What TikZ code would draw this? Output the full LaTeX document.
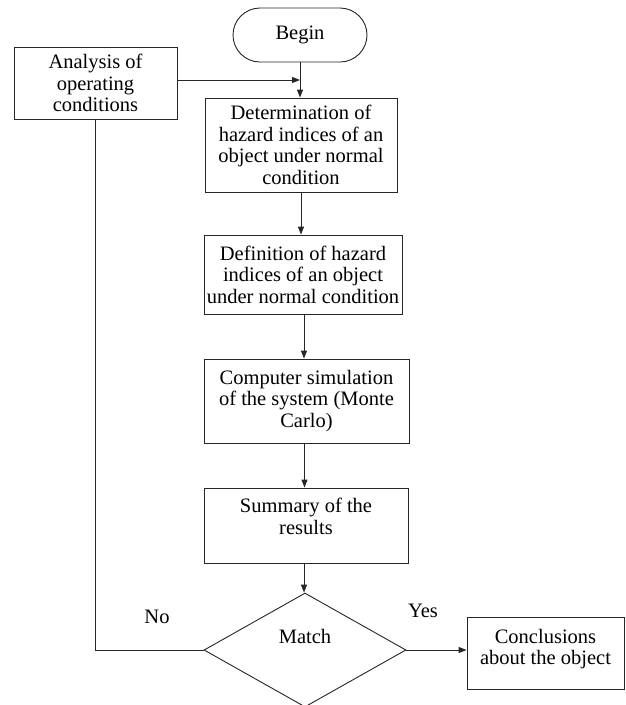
\documentclass[tikz,border=0pt]{standalone}
\usepackage{fontspec}
\setmainfont{Liberation Serif}
\usetikzlibrary{arrows.meta,shapes.geometric}
\begin{document}
\begin{tikzpicture}[x=1pt,y=-1pt,
  every node/.style={font=\fontsize{20.5}{21.5}\selectfont, align=center, inner sep=0pt},
  box/.style={draw=black!85, line width=0.9pt, rectangle},
  term/.style={draw=black!85, line width=0.9pt, rectangle, rounded corners=27pt},
  dec/.style={draw=black!85, line width=0.9pt, diamond},
  conn/.style={draw=black!85, line width=0.9pt},
  arr/.style={conn, -{Triangle[length=8pt,width=6pt]}}
]
\useasboundingbox (0,0) rectangle (625,705);
\node[term, minimum width=134pt, minimum height=54pt] (begin) at (300,35) {Begin};
\node[box, minimum width=163pt, minimum height=72pt] (ana) at (95.5,83) {Analysis of\\operating\\conditions};
\node[box, minimum width=192pt, minimum height=94pt] (det) at (301,145) {Determination of\\hazard indices of an\\object under normal\\condition};
\node[box, minimum width=198pt, minimum height=79pt] (def) at (303,274.5) {Definition of hazard\\indices of an object\\under normal condition};
\node[box, minimum width=205pt, minimum height=84pt] (comp) at (306.5,401) {Computer simulation\\of the system (Monte\\Carlo)};
\node[box, minimum width=204pt, minimum height=75pt,
      label={[yshift=9pt]center:Summary of the\\results}] (summ) at (306,525.5) {};
\node[dec, minimum width=202pt, minimum height=114pt] (dia) at (305,650) {};
\node (match) at (305,636) {Match};
\node[box, minimum width=157pt, minimum height=72pt] (conc) at (545.5,653) {Conclusions\\about the object\\[-9pt]};
\node (yes) at (423,611) {Yes};
\node (no) at (157,617) {No};
\coordinate (join) at (begin.south |- ana.east);
\draw[arr] (begin.south) -- (begin.south |- det.north);
\draw[arr] ([yshift=3pt]ana.east) -- ([yshift=3pt]join);
\draw[arr] (det.south) -- (det.south |- def.north);
\draw[arr] ([xshift=1pt]def.south) -- ([xshift=1pt]def.south |- comp.north);
\draw[arr] ([xshift=-2pt]comp.south) -- ([xshift=-2pt]comp.south |- summ.north);
\draw[arr] ([xshift=-2pt]summ.south) -- ([xshift=-2pt]summ.south |- dia.north);
\draw[arr] (dia.east) -- (dia.east -| conc.west);
\draw[conn] (ana.south) -- (ana.south |- dia.west) -- (dia.west);
\end{tikzpicture}
\end{document}
